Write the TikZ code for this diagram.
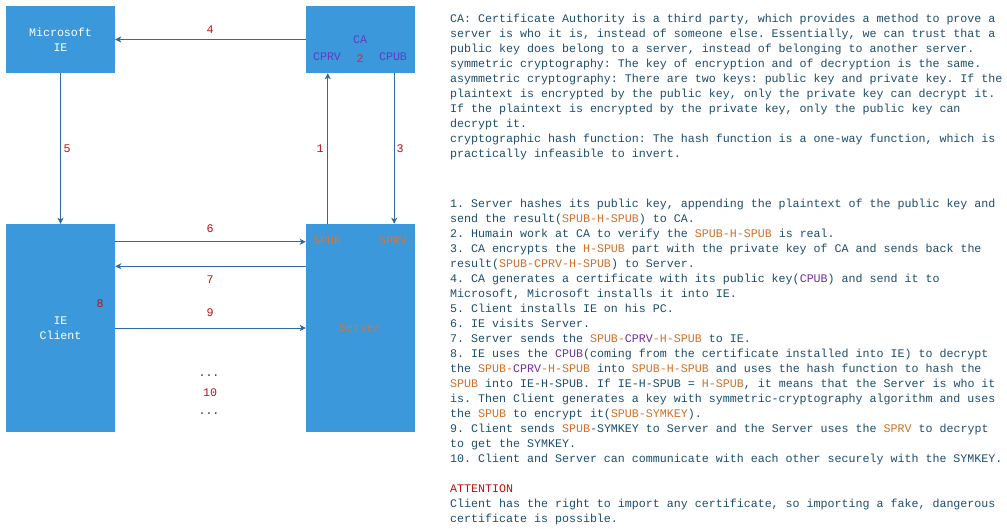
\documentclass[tikz,border=0pt]{standalone}
\usepackage{fontspec}
\setmonofont{Liberation Mono}
\usetikzlibrary{arrows.meta}
\definecolor{boxblue}{RGB}{58,152,219}
\definecolor{arrcol}{RGB}{47,108,155}
\definecolor{numred}{RGB}{192,16,16}
\definecolor{capurple}{RGB}{92,64,196}
\definecolor{boxred}{RGB}{205,40,70}
\definecolor{boxorange}{RGB}{200,122,72}
\definecolor{txteal}{RGB}{31,78,108}
\definecolor{txorange}{RGB}{210,112,40}
\definecolor{txpurple}{RGB}{112,48,160}
\newcommand\OrTx[1]{\textcolor{txorange}{#1}}
\newcommand\PuTx[1]{\textcolor{txpurple}{#1}}
\begin{document}
\begin{tikzpicture}[x=1pt,y=-1pt,
  every node/.style={font=\ttfamily\fontsize{11.65}{15}\selectfont},
  bluebox/.style={fill=boxblue,draw=none,minimum width=109pt,inner sep=0pt,text=white,align=center},
  arr/.style={draw=arrcol,line width=0.9pt,-{Stealth[length=6pt,width=6pt,inset=1.5pt]}},
  num/.style={text=numred,inner sep=0pt},
  calbl/.style={text=capurple,inner sep=0pt},
  svlbl/.style={text=boxorange,inner sep=0pt},
  para/.style={text=txteal,align=left,anchor=north west,inner sep=0pt}]
\useasboundingbox[fill=white] (0,0) rectangle (1007,529);
% boxes
\node[bluebox,minimum height=67pt] (ms) at (60.5,39.5) {Microsoft\\IE};
\node[bluebox,minimum height=67pt] (ca) at (360.5,39.5) {};
\node[bluebox,minimum height=208pt] (client) at (60.5,328) {IE\\Client};
\node[bluebox,minimum height=208pt] (server) at (360.5,328) {};
% box labels
\node[calbl] (catxt) at (360,40) {CA};
\node[calbl] (cprv) at (327,57) {CPRV};
\node[text=boxred,inner sep=0pt] (two) at (360,59) {2};
\node[calbl] (cpub) at (393,57) {CPUB};
\node[svlbl] (spub) at (327,241) {SPUB};
\node[svlbl] (sprv) at (393,241) {SPRV};
\node[svlbl] (svtxt) at (360,328) {Server};
% connectors
\draw[arr] (ca.west) -- (ms.east);
\draw[arr] (ms.south) -- (client.north);
\draw[arr] ([xshift=22pt]server.north west) -- ([xshift=22pt]ca.south west);
\draw[arr] ([xshift=-21pt]ca.south east) -- ([xshift=-21pt]server.north east);
\draw[arr] ([yshift=-18pt]client.north east) -- ([yshift=-18pt]server.north west);
\draw[arr] ([yshift=-42.5pt]server.north west) -- ([yshift=-42.5pt]client.north east);
\draw[arr] (client.east) -- (server.west);
% step numbers
\node[num] (n4) at (210,30) {4};
\node[num] (n5) at (67,149) {5};
\node[num] (n1) at (320,149) {1};
\node[num] (n3) at (400,149) {3};
\node[num] (n6) at (210,229) {6};
\node[num] (n7) at (210,280) {7};
\node[num] (n8) at (100,304) {8};
\node[num] (n9) at (210,313) {9};
\node[text=black!80,inner sep=0pt] (dots1) at (209,375.5) {...};
\node[num] (n10) at (210,393) {10};
\node[text=black!80,inner sep=0pt] (dots2) at (209,413.5) {...};
% explanations
\node[para] (defs) at (450,14) {CA: Certificate Authority is a third party, which provides a method to prove a\\
server is who it is, instead of someone else. Essentially, we can trust that a\\
public key does belong to a server, instead of belonging to another server.\\
symmetric cryptography: The key of encryption and of decryption is the same.\\
asymmetric cryptography: There are two keys: public key and private key. If the\\
plaintext is encrypted by the public key, only the private key can decrypt it.\\
If the plaintext is encrypted by the private key, only the public key can\\
decrypt it.\\
cryptographic hash function: The hash function is a one-way function, which is\\
practically infeasible to invert.};
\node[para] (steps) at (450,199) {1. Server hashes its public key, appending the plaintext of the public key and\\
send the result(\OrTx{SPUB-H-SPUB}) to CA.\\
2. Humain work at CA to verify the \OrTx{SPUB-H-SPUB} is real.\\
3. CA encrypts the \OrTx{H-SPUB} part with the private key of CA and sends back the\\
result(\OrTx{SPUB-CPRV-H-SPUB}) to Server.\\
4. CA generates a certificate with its public key(\PuTx{CPUB}) and send it to\\
Microsoft, Microsoft installs it into IE.\\
5. Client installs IE on his PC.\\
6. IE visits Server.\\
7. Server sends the \OrTx{SPUB-}\PuTx{CPRV}\OrTx{-H-SPUB} to IE.\\
8. IE uses the \PuTx{CPUB}(coming from the certificate installed into IE) to decrypt\\
the \OrTx{SPUB-}\PuTx{CPRV}\OrTx{-H-SPUB} into \OrTx{SPUB-H-SPUB} and uses the hash function to hash the\\
\OrTx{SPUB} into IE-H-SPUB. If IE-H-SPUB = \OrTx{H-SPUB}, it means that the Server is who it\\
is. Then Client generates a key with symmetric-cryptography algorithm and uses\\
the \OrTx{SPUB} to encrypt it(\OrTx{SPUB-SYMKEY}).\\
9. Client sends \OrTx{SPUB}-SYMKEY to Server and the Server uses the \OrTx{SPRV} to decrypt\\
to get the SYMKEY.\\
10. Client and Server can communicate with each other securely with the SYMKEY.};
\node[para] (attn) at (450,485) {\textcolor{numred}{ATTENTION}\\
Client has the right to import any certificate, so importing a fake, dangerous\\
certificate is possible.};
\end{tikzpicture}
\end{document}
